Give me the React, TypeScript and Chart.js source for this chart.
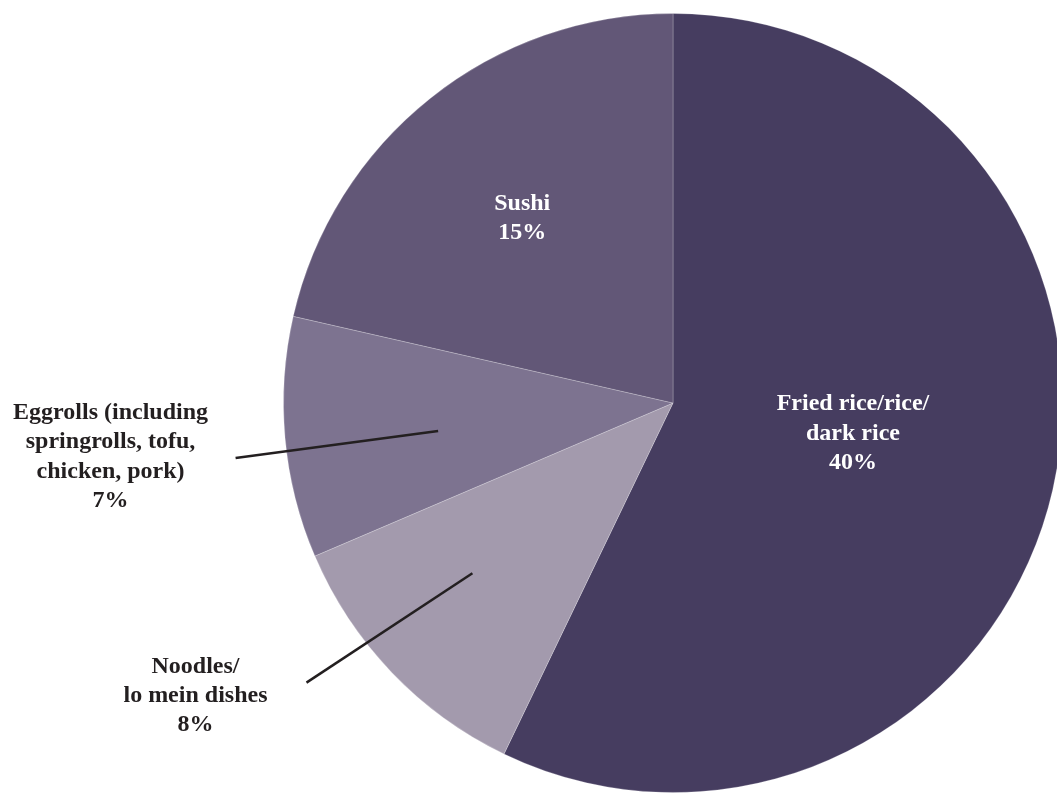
import React, { useEffect, useRef } from "react";
import { Chart, registerables } from "chart.js";

Chart.register(...registerables);

const categories = [
  ["Fried rice/rice/", "dark rice"],
  ["Noodles/", "lo mein dishes"],
  ["Eggrolls (including", "springrolls, tofu,", "chicken, pork)"],
  ["Sushi"],
];
const values = [40, 8, 7, 15];
const percentLabels = ["40%", "8%", "7%", "15%"];
const colors = ["#463d60", "#a39aad", "#7d7390", "#625777"];

// label placement relative to pie centre, in units of radius
const labelPlacement = [
  { dx: 0.462, dy: 0.078, inside: true },
  { dx: -1.226, dy: 0.752, inside: false, line: [[-0.941, 0.718], [-0.515, 0.437]] },
  { dx: -1.444, dy: 0.138, inside: false, line: [[-1.123, 0.141], [-0.603, 0.072]] },
  { dx: -0.387, dy: -0.475, inside: true },
];

const labelPlugin = {
  id: "sliceLabels",
  afterDatasetsDraw(chart: any) {
    const meta = chart.getDatasetMeta(0);
    const arc0 = meta.data[0];
    if (!arc0) return;
    const cx = arc0.x;
    const cy = arc0.y;
    const r = arc0.outerRadius;
    const ctx = chart.ctx;
    ctx.save();
    const fontSize = 24;
    const lh = 29.3;
    ctx.font = `bold ${fontSize}px "Liberation Serif", "Times New Roman", serif`;
    ctx.textAlign = "center";
    ctx.textBaseline = "middle";
    labelPlacement.forEach((p, i) => {
      if (p.line) {
        ctx.beginPath();
        ctx.strokeStyle = "#231f20";
        ctx.lineWidth = 2.5;
        ctx.moveTo(cx + p.line[0][0] * r, cy + p.line[0][1] * r);
        ctx.lineTo(cx + p.line[1][0] * r, cy + p.line[1][1] * r);
        ctx.stroke();
      }
      const lines = [...categories[i], percentLabels[i]];
      const x = cx + p.dx * r;
      const yc = cy + p.dy * r;
      const y0 = yc - ((lines.length - 1) * lh) / 2;
      ctx.fillStyle = p.inside ? "#ffffff" : "#231f20";
      lines.forEach((t, k) => ctx.fillText(t, x, y0 + k * lh));
    });
    ctx.restore();
  },
};

export default function App() {
  const ref = useRef<HTMLCanvasElement | null>(null);
  useEffect(() => {
    if (!ref.current) return;
    const chart = new Chart(ref.current, {
      type: "pie",
      data: {
        labels: categories.map((c) => c.join(" ")),
        datasets: [
          {
            data: values,
            backgroundColor: colors,
            borderColor: "rgba(255,255,255,0.22)",
            borderWidth: 1,
          },
        ],
      },
      options: {
        responsive: false,
        animation: false,
        devicePixelRatio: 1,
        layout: { padding: { top: 13, bottom: 13, left: 0, right: 0 } },
        plugins: {
          legend: { display: false },
          tooltip: { enabled: false },
        },
      },
      plugins: [labelPlugin],
    });
    return () => chart.destroy();
  }, []);
  return (
    <div
      style={{
        position: "absolute",
        left: 0,
        top: 0,
        width: 1057,
        height: 793,
        overflow: "hidden",
        background: "#ffffff",
      }}
    >
      <canvas ref={ref} width={1346} height={806} style={{ width: 1346, height: 806, display: "block" }} />
    </div>
  );
}
